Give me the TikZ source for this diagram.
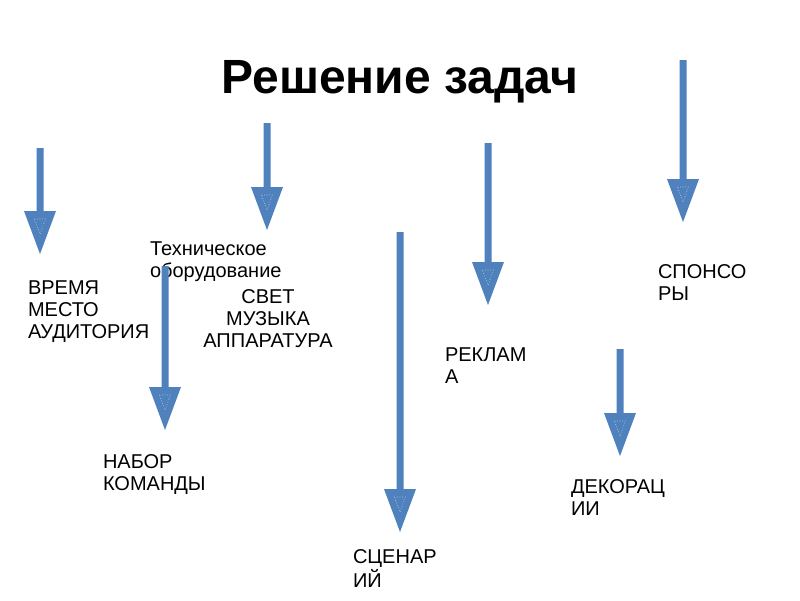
\documentclass[tikz,border=0pt]{standalone}
\usepackage{fontspec}
\setmainfont{Liberation Sans}
\definecolor{arrowblue}{RGB}{79,129,189}
\newcommand\blkarrow[4]{% name, x, ytop, ytip
  \coordinate (#1-s) at (#2,#3);
  \coordinate (#1-t) at (#2,#4);
  \fill[arrowblue] (#2-3.5,#3) -- (#2+3.5,#3) -- (#2+3.5,#4-43) -- (#2+16,#4-43)
    -- (#1-t) -- (#2-16,#4-43) -- (#2-3.5,#4-43) -- cycle;
  \draw[innertri] (#2-5.5,#4-35) -- (#2+5.5,#4-35) -- (#2,#4-20) -- cycle;
}
\begin{document}
\begin{tikzpicture}[x=1pt,y=-1pt,
  lbl/.style={inner sep=0pt,outer sep=0pt,align=left,anchor=north west,
    font=\fontsize{20}{22}\selectfont},
  innertri/.style={draw=white,dotted,line width=0.6pt,opacity=0.75}]
\useasboundingbox[fill=white] (0,0) rectangle (800,600);
\node[inner sep=0pt,anchor=base,font=\fontsize{48}{52}\selectfont\bfseries] (title) at (400,93) {Решение задач};
\node[lbl] (vremya) at (28,281) {ВРЕМЯ\\МЕСТО\\АУДИТОРИЯ};
\node[lbl] (tech) at (150,242) {Техническое\\оборудование};
\node[lbl,align=center,anchor=north] (svet) at (268,290) {СВЕТ\\МУЗЫКА\\АППАРАТУРА};
\node[lbl] (nabor) at (103,455) {НАБОР\\КОМАНДЫ};
\node[lbl] (scen) at (353,550) {СЦЕНАР\\ИЙ};
\node[lbl] (rekl) at (445,348) {РЕКЛАМ\\А};
\node[lbl] (spons) at (658,265) {СПОНСО\\РЫ};
\node[lbl] (dekor) at (571,480) {ДЕКОРАЦ\\ИИ};
\blkarrow{a1}{40}{148}{254}
\blkarrow{a2}{267}{123}{230}
\blkarrow{a3}{400}{232}{532}
\blkarrow{a4}{488}{143}{305}
\blkarrow{a5}{683}{60}{222}
\blkarrow{a6}{165}{266}{430}
\blkarrow{a7}{620}{349}{456}
\end{tikzpicture}
\end{document}
